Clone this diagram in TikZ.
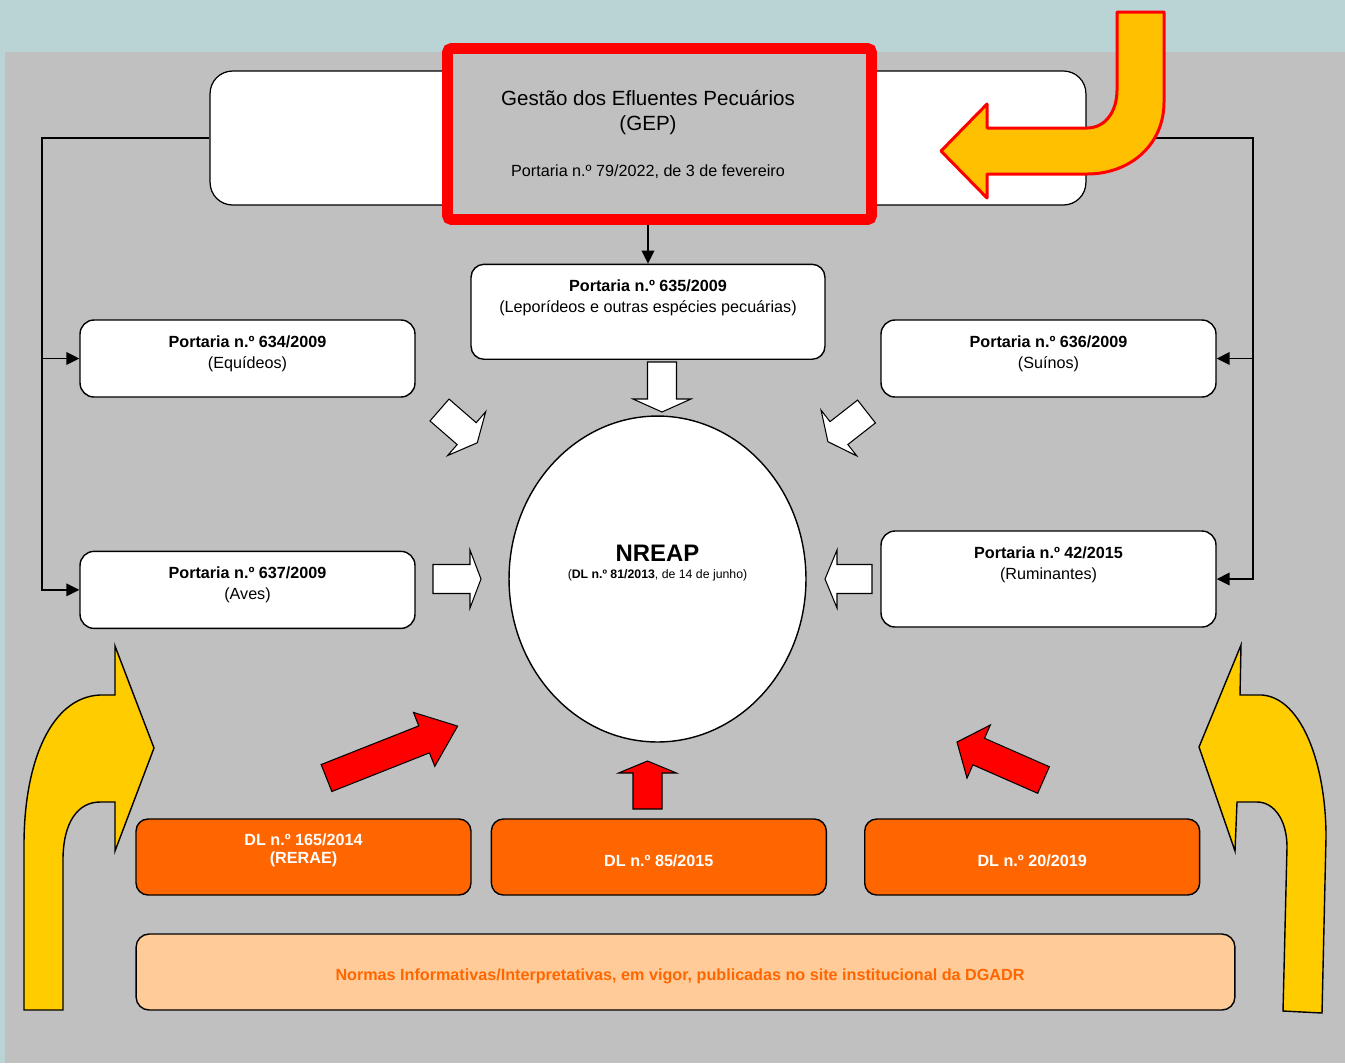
\documentclass[tikz,border=0pt]{standalone}
\usepackage{fontspec}
\setmainfont{Liberation Sans}
\usetikzlibrary{positioning,shapes.geometric,arrows.meta}
\definecolor{skyback}{HTML}{BAD3D4}
\definecolor{panel}{HTML}{C0C0C0}
\definecolor{dlorange}{HTML}{FF6600}
\definecolor{normfill}{HTML}{FFCC99}
\definecolor{goldarr}{HTML}{FFCC00}
\definecolor{amberarr}{HTML}{FFC000}
\tikzset{
  pt/.style={rectangle, rounded corners=0.28cm, minimum width=6.7cm, minimum height=1.54cm, draw=black, line width=0.8pt, fill=white},
  lbl/.style={align=center, inner sep=0pt, font=\fontsize{9.2}{11.9}\selectfont},
  dl/.style={rectangle, rounded corners=0.24cm, minimum width=6.7cm, minimum height=1.52cm, draw=black, line width=0.8pt, fill=dlorange},
  dlt/.style={align=center, inner sep=0pt, text=white, font=\fontsize{9.2}{10.4}\selectfont\bfseries},
  conn/.style={line width=1.1pt, -{Triangle[length=0.26cm,width=0.25cm]}},
  wa/.style={draw=black, line width=0.6pt, fill=white},
  ra/.style={draw=black, line width=0.6pt, fill=red},
  yarr/.style={draw=black, line width=0.8pt, fill=goldarr},
  tarr/.style={draw=red, line width=1.7pt, fill=amberarr, line join=round},
  pics/barrow/.style args={#1/#2}{code={
    \path[pic actions] (0,-14.5) -- (#1-#2,-14.5) -- (#1-#2,-29) -- (#1,0) -- (#1-#2,29) -- (#1-#2,14.5) -- (0,14.5) -- cycle;}},
}
\begin{document}
\begin{tikzpicture}[x=0.02cm, y=-0.02cm]
	\fill[skyback] (0,0) rectangle (1345,1063);
	\fill[panel] (5,52) rectangle (1345,1063);
	%
	\node[rectangle, rounded corners=0.45cm, minimum width=17.52cm, minimum height=2.68cm, draw=black, line width=0.7pt, fill=white] (gepbg) at (648,138) {};
	\node[pt, minimum width=7.08cm, minimum height=1.9cm, rounded corners=0.26cm, below=1.16cm of gepbg] (p635) {};
	\node[pt] (p634) at (247.5,358.5) {};
	\node[pt, below=3.06cm of p634] (p637) {};
	\node[pt] (p636) at (1048.5,358.5) {};
	\node[pt, minimum height=1.92cm] (p42) at (1048.5,579) {};
	\node[ellipse, draw=black, line width=0.8pt, fill=white, minimum width=5.94cm, minimum height=6.52cm, inner sep=0pt] (nreap) at (657.5,579) {};
	\node[dl] (dl165) at (303.5,857) {};
	\node[dl, right=0.38cm of dl165] (dl85) {};
	\node[dl, right=0.74cm of dl85] (dl20) {};
	\node[rectangle, rounded corners=0.26cm, minimum width=21.98cm, minimum height=1.52cm, draw=black, line width=0.8pt, fill=normfill] (normas) at (685.5,972) {};
	%
	\coordinate (lbus) at (42,138);
	\coordinate (rbus) at (1253,138);
	\draw[conn] (gepbg.west) -- (lbus) |- (p637.west);
	\draw[conn] (lbus |- p634.west) -- (p634.west);
	\draw[conn] (gepbg.east) -- (rbus) |- (p42.east);
	\draw[conn] (rbus |- p636.east) -- (p636.east);
	\draw[conn] (gepbg.south) -- (p635.north);
	%
	\node[rectangle, rounded corners=0.08cm, minimum width=8.48cm, minimum height=3.42cm, draw=red, line width=6.2pt, fill=panel] (gep) at (659.5,134) {};
	\node[lbl, font=\fontsize{11.7}{14.2}\selectfont] (geptitle) at (648,112.5) {Gestão dos Efluentes Pecuários\\(GEP)};
	\node[lbl] (gepref) at (648,172) {Portaria n.º 79/2022, de 3 de fevereiro};
	%
	\node[lbl, below=0.32cm of p635.north] (t635) {\textbf{Portaria n.º 635/2009}\\(Leporídeos e outras espécies pecuárias)};
	\node[lbl, below=0.32cm of p634.north] (t634) {\textbf{Portaria n.º 634/2009}\\(Equídeos)};
	\node[lbl, below=0.32cm of p637.north] (t637) {\textbf{Portaria n.º 637/2009}\\(Aves)};
	\node[lbl, below=0.32cm of p636.north] (t636) {\textbf{Portaria n.º 636/2009}\\(Suínos)};
	\node[lbl, below=0.32cm of p42.north] (t42) {\textbf{Portaria n.º 42/2015}\\(Ruminantes)};
	\node[inner sep=0pt, font=\fontsize{13.6}{16}\selectfont\bfseries] (nreapt) at ([yshift=0.52cm]nreap.center) {NREAP};
	\node[inner sep=0pt, font=\fontsize{7}{8.5}\selectfont] (nreapref) at ([yshift=0.08cm]nreap.center) {(\textbf{DL n.º 81/2013}, de 14 de junho)};
	\node[dlt] (t165) at ([yshift=0.13cm]dl165.center) {DL n.º 165/2014\\(RERAE)};
	\node[dlt] (t85) at ([yshift=-0.07cm]dl85.center) {DL n.º 85/2015};
	\node[dlt] (t20) at ([yshift=-0.07cm]dl20.center) {DL n.º 20/2019};
	\node[lbl, text=dlorange, font=\fontsize{9.2}{11}\selectfont\bfseries] (tnormas) at ([xshift=-0.11cm, yshift=-0.08cm]normas.center) {Normas Informativas/Interpretativas, em vigor, publicadas no site institucional da DGADR};
	%
	\pic[wa, rotate=-90] at (662,362) {barrow=50/13};
	\pic[wa] at (433,579) {barrow=48/11};
	\pic[wa, rotate=180] at (872,579) {barrow=47/12};
	\pic[wa, rotate=-41] at (439.5,410) {barrow=50/14};
	\pic[wa, rotate=-142] at (866.5,411.5) {barrow=49/14};
	\pic[ra, rotate=21.6] at (326.5,778) {barrow=141/36};
	\pic[ra, rotate=90] at (647.5,809) {barrow=48/12};
	\pic[ra, rotate=156.3] at (1043.5,780) {barrow=94.5/23.7};
	%
	\draw[yarr] (24,1010) -- (24,845) .. controls (24,760) and (52,697) .. (100,695) -- (115,695) -- (115,646) -- (154,748) -- (115,851) -- (115,802) -- (100,802) .. controls (78,802) and (63,822) .. (63,860) -- (63,1010) -- cycle;
	\draw[yarr] (1283,1011) -- (1287,847) .. controls (1287,820) and (1274,802) .. (1257,802) -- (1237,802) -- (1235,851) -- (1199,747) -- (1241,645) -- (1240,695) -- (1262,695) .. controls (1302,698) and (1326,765) .. (1326,837) -- (1322,1013) -- cycle;
	\draw[tarr] (1117,12) -- (1164,12) -- (1164,102) .. controls (1164,145) and (1130,174) .. (1087,174) -- (987,174) -- (987,198) -- (941,151) -- (987,104) -- (987,128) -- (1087,128) .. controls (1105,128) and (1117,112) .. (1117,90) -- cycle;
\end{tikzpicture}
\end{document}
